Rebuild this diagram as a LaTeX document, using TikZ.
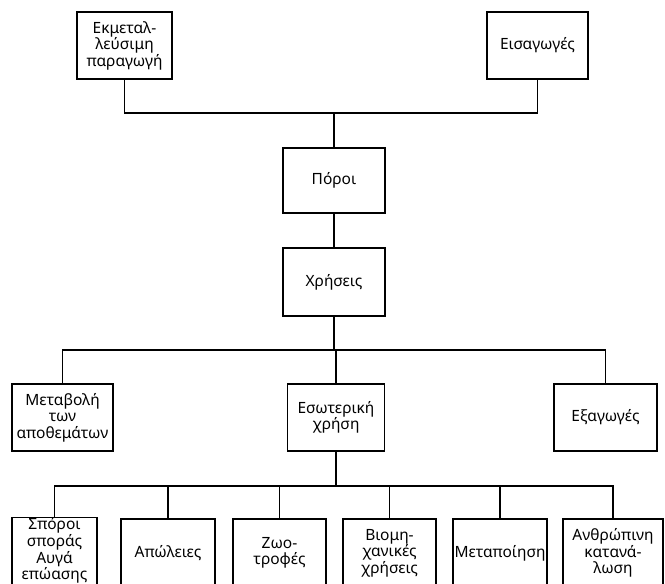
\documentclass[tikz,border=0pt]{standalone}
\usepackage{fontspec}
\setmainfont{Noto Sans}
\begin{document}
\begin{tikzpicture}[x=1pt,y=-1pt,
  box/.style={draw, line width=1.2pt, align=center, inner sep=0pt,
    font=\fontsize{15.5}{16.5}\selectfont},
  conn/.style={line width=1.2pt}]
\clip (0,0) rectangle (665,584);
% top row
\node[box, minimum width=95pt, minimum height=67pt] (ekm) at (124.5,45.5) {Εκμεταλ-\\λεύσιμη\\παραγωγή};
\node[box, minimum width=101pt, minimum height=67pt] (eis) at (537.5,45.5) {Εισαγωγές};
\node[box, minimum width=102pt, minimum height=65pt] (poroi) at (334,180.5) {Πόροι};
\node[box, minimum width=102pt, minimum height=68pt] (xris) at (334,282) {Χρήσεις};
% middle row
\node[box, minimum width=101pt, minimum height=67pt] (metab) at (62.5,417.5) {Μεταβολή\\των\\αποθεμάτων};
\node[box, minimum width=97pt, minimum height=67pt] (esot) at (336,417.5) {Εσωτερική\\χρήση};
\node[box, minimum width=103pt, minimum height=67pt] (exag) at (605.5,417.5) {Εξαγωγές};
% bottom row
\node[box, minimum width=85pt, minimum height=68pt, text depth=9pt, font=\fontsize{15.5}{15}\selectfont] (b1) at (54.5,553) {Σπόροι\\σποράς\\Αυγά\\επώασης};
\node[box, minimum width=94pt, minimum height=68pt] (b2) at (168,553) {Απώλειες};
\node[box, minimum width=93pt, minimum height=68pt] (b3) at (279.5,553) {Ζωο-\\τροφές};
\node[box, minimum width=93pt, minimum height=68pt] (b4) at (389.5,553) {Βιομη-\\χανικές\\χρήσεις};
\node[box, minimum width=94pt, minimum height=68pt] (b5) at (500,553) {Μεταποίηση};
\node[box, minimum width=100pt, minimum height=68pt] (b6) at (613,553) {Ανθρώπινη\\κατανά-\\λωση};
% junctions
\coordinate (top) at (334,113);
\coordinate (mid) at (334,350);
\coordinate (low) at (336,486);
% connectors
\draw[conn] (ekm.south) |- (top) -| (eis.south);
\draw[conn] (top) -- (poroi.north);
\draw[conn] (poroi.south) -- (xris.north);
\draw[conn] (xris.south) -- (mid);
\draw[conn] (metab.north) |- (mid) -| (exag.north);
\draw[conn] (mid) -- (mid -| esot.north) -- (esot.north);
\draw[conn] (esot.south) -- (low);
\draw[conn] (b1.north) |- (low) -| (b6.north);
\draw[conn] (b2.north) -- (b2.north |- low);
\draw[conn] (b3.north) -- (b3.north |- low);
\draw[conn] (b4.north) -- (b4.north |- low);
\draw[conn] (b5.north) -- (b5.north |- low);
\end{tikzpicture}
\end{document}
